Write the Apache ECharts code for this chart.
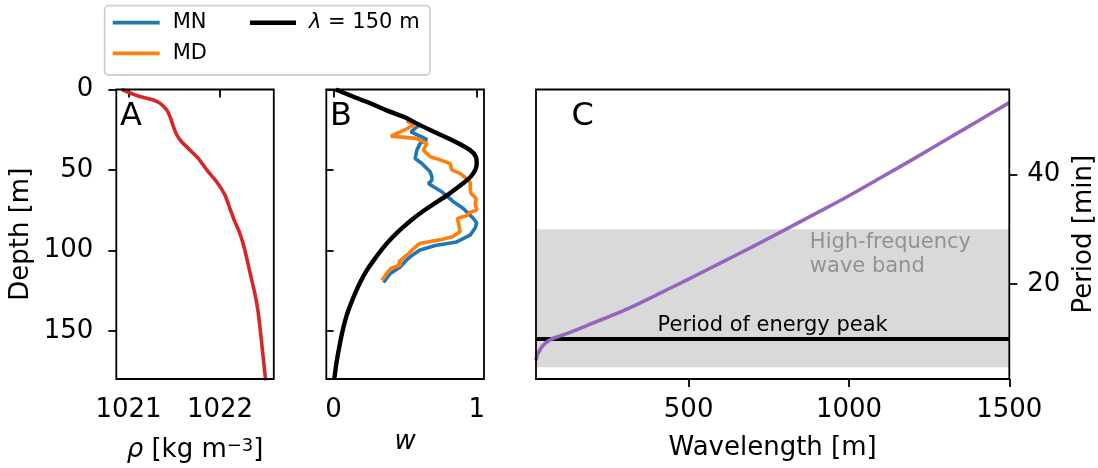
<!DOCTYPE html>
<html>
<head>
<meta charset="utf-8">
<script src="https://cdn.jsdelivr.net/npm/echarts@6/dist/echarts.min.js"></script>
<style>
  html,body{margin:0;padding:0;background:#fff}
  #chart{width:1098px;height:468px}
</style>
</head>
<body>
<div id="chart"></div>
<script>
// ---- data ----
// panel A: density profile
const rhoDepth = [0, 3, 5, 6.5, 8.6, 12.8, 17, 23, 28.3, 32.5, 37.7, 42.8, 50, 57.4, 65.7, 74, 82.3, 89.5, 100, 113.4, 126.9, 138.4, 157, 175.7, 181];
const rhoValue = [1020.928, 1021.055, 1021.164, 1021.273, 1021.346, 1021.419, 1021.455, 1021.49, 1021.528, 1021.58, 1021.673, 1021.763, 1021.855, 1021.964, 1022.055, 1022.109, 1022.164, 1022.218, 1022.273, 1022.327, 1022.382, 1022.418, 1022.455, 1022.49, 1022.5];

// panel B: vertical velocity structure
const mnDepth = [22, 26.3, 31, 33.5, 37.7, 42.9, 46, 49.1, 51.2, 54.3, 56.4, 58.4, 60.5, 63.6, 66, 70, 74, 76.1, 80.2, 83, 86, 90.6, 94.8, 97, 100, 103, 106, 110.3, 114.4, 120];
const mnW     = [0.60, 0.54, 0.652, 0.605, 0.582, 0.57, 0.617, 0.652, 0.675, 0.687, 0.687, 0.663, 0.698, 0.756, 0.79, 0.84, 0.907, 0.93, 0.977, 1.0, 0.99, 0.954, 0.86, 0.71, 0.60, 0.55, 0.51, 0.465, 0.396, 0.349];
const mdDepth = [19.5, 22, 25, 29, 30.4, 33.5, 37.7, 41.8, 43, 46, 50, 52.2, 55.5, 58, 61, 64.6, 67.7, 71, 75, 76.5, 78.5, 80.2, 84, 88.5, 91.6, 93.5, 95.8, 99.9, 103, 104.5, 107.2, 109, 111.3, 114.5, 118.6];
const mdW     = [0.51, 0.56, 0.50, 0.40, 0.58, 0.652, 0.628, 0.675, 0.72, 0.814, 0.826, 0.884, 0.93, 0.955, 0.954, 0.96, 0.996, 0.99, 1.0, 0.95, 0.93, 0.865, 0.875, 0.884, 0.83, 0.74, 0.60, 0.547, 0.512, 0.49, 0.455, 0.47, 0.40, 0.37, 0.338];
const modeDepth = [0, 2, 4.5, 8.6, 13, 17, 22, 27, 32, 37.7, 42, 46, 50, 54, 58, 62, 66, 70, 74, 80, 86, 92, 98, 105, 112, 120, 130, 140, 150, 160, 170, 180];
const modeW     = [0.015, 0.07, 0.14, 0.256, 0.37, 0.489, 0.60, 0.72, 0.84, 0.954, 0.995, 1.0, 0.99, 0.96, 0.91, 0.85, 0.79, 0.72, 0.652, 0.56, 0.48, 0.41, 0.35, 0.29, 0.235, 0.185, 0.135, 0.093, 0.063, 0.04, 0.02, 0.005];

// panel C: dispersion (wavelength vs period)
const wavelength = [24, 28, 36, 44, 52, 60, 68, 80, 100, 150, 200, 300, 400, 500, 600, 700, 800, 900, 1000, 1100, 1200, 1300, 1400, 1500];
const period     = [6.0, 7.0, 7.9, 8.6, 9.1, 9.45, 9.75, 10.1, 10.5, 11.6, 12.8, 15.2, 18.0, 20.9, 23.85, 26.85, 29.9, 33.0, 36.15, 39.5, 42.85, 46.3, 49.75, 53.2];
const peakPeriod = 10;
const bandPeriod = [4.75, 30];

// ticks
const depthTicks = [0, 50, 100, 150];
const rhoTicks = [1021, 1022];
const wTicks = [0, 1];
const lambdaTicks = [500, 1000, 1500];
const periodTicks = [20, 40];

const FONT = 'DejaVu Sans';
const pair = (xs, ys) => xs.map((x, i) => [x, ys[i]]);
const plain = v => String(v);

const tickStyle = {color: '#000', width: 1.8};
const labelStyle = {color: '#000', fontSize: 26, fontFamily: FONT, formatter: plain};
const nameStyle = {color: '#000', fontSize: 26, fontFamily: FONT,
  rich: {
    i: {fontStyle: 'italic', fontSize: 26, fontFamily: FONT, color: '#000'},
    s: {fontSize: 18, fontFamily: FONT, color: '#000', verticalAlign: 'top'}
  }};

function xAx(gi, min, max, ticks, name, gap){
  return {
    gridIndex: gi, type: 'value', min: min, max: max,
    axisLine: {show: false}, splitLine: {show: false},
    axisTick: {show: true, length: 8, lineStyle: tickStyle, customValues: ticks},
    axisLabel: Object.assign({margin: 18, customValues: ticks}, labelStyle),
    name: name, nameLocation: 'middle', nameGap: gap, nameMoveOverlap: false,
    nameTextStyle: nameStyle
  };
}
function yAx(gi, min, max, ticks, opts){
  return Object.assign({
    gridIndex: gi, type: 'value', min: min, max: max,
    axisLine: {show: false}, splitLine: {show: false},
    axisTick: {show: true, length: 8, lineStyle: tickStyle, customValues: ticks},
    axisLabel: Object.assign({margin: 23, customValues: ticks}, labelStyle),
    nameLocation: 'middle', nameMoveOverlap: false, nameTextStyle: nameStyle
  }, opts);
}

const gridBase = {show: true, borderColor: '#000', borderWidth: 1.8, backgroundColor: 'transparent', z: 10, outerBoundsMode: 'none'};

const chart = echarts.init(document.getElementById('chart'), null, {renderer: 'canvas'});
chart.setOption({
  animation: false,
  backgroundColor: '#fff',
  textStyle: {fontFamily: FONT},
  grid: [
    Object.assign({left: 116.3, top: 89.5, width: 157.5, height: 289.5}, gridBase),
    Object.assign({left: 326.3, top: 89.5, width: 157.7, height: 289.5}, gridBase),
    Object.assign({left: 536, top: 89.5, width: 473.3, height: 289.5}, gridBase)
  ],
  xAxis: [
    xAx(0, 1020.866, 1022.589, rhoTicks, '{i|ρ} [kg m{s|−3}]', 58),
    xAx(1, -0.051, 1.051, wTicks, '{i|w}', 50),
    xAx(2, 24, 1500, lambdaTicks, 'Wavelength [m]', 56)
  ],
  yAxis: [
    yAx(0, 0, 180, depthTicks, {inverse: true, position: 'left', name: 'Depth [m]', nameGap: 82}),
    yAx(1, 0, 180, depthTicks, {inverse: true, position: 'left', axisLabel: {show: false, customValues: depthTicks}}),
    yAx(2, 2.6, 55.6, periodTicks, {position: 'right', name: 'Period [min]', nameGap: 62,
      axisLabel: Object.assign({margin: 18, customValues: periodTicks}, labelStyle)})
  ],
  legend: [
    {data: ['MN', 'MD'], left: 112.7, top: 12.2, orient: 'vertical', icon: 'rect',
     itemWidth: 47, itemHeight: 3.8, itemGap: 9.6, padding: 0, selectedMode: false,
     textStyle: {fontSize: 21, fontFamily: FONT, color: '#000', lineHeight: 21, padding: [0, 0, 0, 8]}},
    {data: ['λ = 150 m'], left: 250, top: 12.2, orient: 'vertical', icon: 'rect',
     itemWidth: 46, itemHeight: 4.4, padding: 0, selectedMode: false,
     formatter: () => '{i|λ} = 150 m',
     textStyle: {fontSize: 21, fontFamily: FONT, color: '#000', lineHeight: 21, padding: [0, 0, 0, 8],
       rich: {i: {fontStyle: 'italic', fontSize: 21, fontFamily: FONT, color: '#000'}}}}
  ],
  graphic: [
    {type: 'rect', z: 0, shape: {x: 104.7, y: 5.7, width: 325.3, height: 69.3, r: 4},
     style: {fill: '#fff', stroke: '#d0d0d0', lineWidth: 1.8}},
    {type: 'text', x: 120, y: 116.7, style: {text: 'A', fontSize: 32, fontFamily: FONT, fill: '#000', align: 'left', verticalAlign: 'middle'}},
    {type: 'text', x: 330, y: 116.7, style: {text: 'B', fontSize: 32, fontFamily: FONT, fill: '#000', align: 'left', verticalAlign: 'middle'}},
    {type: 'text', x: 571.5, y: 116.7, style: {text: 'C', fontSize: 32, fontFamily: FONT, fill: '#000', align: 'left', verticalAlign: 'middle'}}
  ],
  series: [
    {name: 'rho', type: 'line', xAxisIndex: 0, yAxisIndex: 0, data: pair(rhoValue, rhoDepth),
     showSymbol: false, symbol: 'none', smooth: 0.2, lineStyle: {color: '#d62728', width: 3.6}, itemStyle: {color: '#d62728'}},
    {name: 'MN', type: 'line', xAxisIndex: 1, yAxisIndex: 1, data: pair(mnW, mnDepth),
     showSymbol: false, symbol: 'none', lineStyle: {color: '#1f77b4', width: 3.6}, itemStyle: {color: '#1f77b4'}},
    {name: 'MD', type: 'line', xAxisIndex: 1, yAxisIndex: 1, data: pair(mdW, mdDepth),
     showSymbol: false, symbol: 'none', lineStyle: {color: '#ff7f0e', width: 3.6}, itemStyle: {color: '#ff7f0e'}},
    {name: 'λ = 150 m', type: 'line', xAxisIndex: 1, yAxisIndex: 1, data: pair(modeW, modeDepth),
     showSymbol: false, symbol: 'none', smooth: 0.3, lineStyle: {color: '#000', width: 4.4}, itemStyle: {color: '#000'}},
    {name: 'dispersion', type: 'line', xAxisIndex: 2, yAxisIndex: 2, data: pair(wavelength, period), z: 5,
     showSymbol: false, symbol: 'none', smooth: 0.3, lineStyle: {color: '#9467bd', width: 3.6}, itemStyle: {color: '#9467bd'},
     markArea: {silent: true, itemStyle: {color: '#d9d9d9'}, data: [[{yAxis: bandPeriod[0]}, {yAxis: bandPeriod[1]}]]},
     markLine: {silent: true, symbol: 'none', data: [{yAxis: peakPeriod}],
       lineStyle: {color: '#000', width: 4.2, type: 'solid'},
       label: {show: true, position: 'insideMiddleTop', distance: 3, formatter: 'Period of energy peak',
         color: '#000', fontSize: 21, fontFamily: FONT}}},
    {name: 'bandLabel', type: 'scatter', xAxisIndex: 2, yAxisIndex: 2, data: [[878, 25.35]], symbolSize: 0, silent: true,
     label: {show: true, position: 'right', distance: 0, formatter: 'High-frequency\nwave band',
       color: '#808080', fontSize: 21, lineHeight: 24, fontFamily: FONT, align: 'left'}}
  ]
});
</script>
</body>
</html>
